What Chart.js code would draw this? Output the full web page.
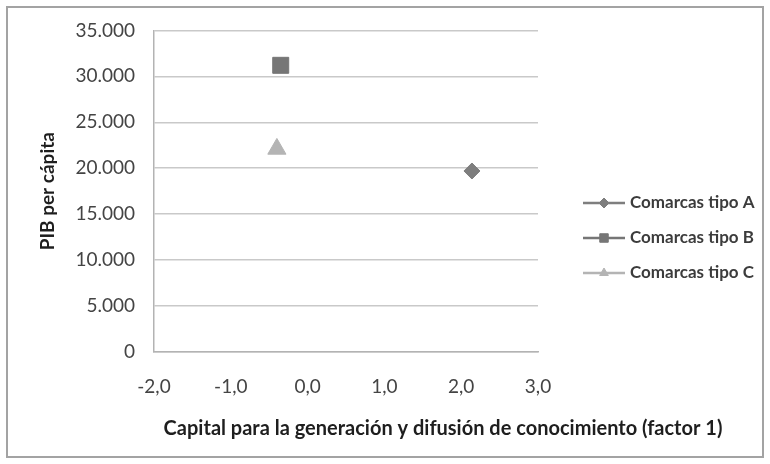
<!DOCTYPE html>
<html>
<head>
<meta charset="utf-8">
<script src="https://cdn.jsdelivr.net/npm/chart.js@4.4.1/dist/chart.umd.min.js"></script>
<style>
  html, body { margin: 0; padding: 0; background: #ffffff; }
  #wrap { position: relative; width: 770px; height: 464px; }
</style>
</head>
<body>
<div id="wrap"><canvas id="chart" width="770" height="464"></canvas></div>
<script>
// Series: one point per comarca type
const categories = ['Comarcas tipo A', 'Comarcas tipo B', 'Comarcas tipo C'];
const factor1 = [2.14, -0.35, -0.40];
const pibPerCapita = [19700, 31200, 22100];

// Axis ranges
const xTickValues = [-2, -1, 0, 1, 2, 3];
const yTickValues = [0, 5000, 10000, 15000, 20000, 25000, 30000, 35000];

const xTitle = 'Capital para la generación y difusión de conocimiento (factor 1)';
const yTitle = 'PIB per cápita';

const markerStyles = ['rectRot', 'rect', 'triangle'];
const markerColors = ['#7e7e7e', '#767676', '#b4b4b4'];
const markerRadius = [8, 11.3, 10.5];

const FONT = 'Lato, "Open Sans", sans-serif';

function fmtThousands(v) {
  return String(Math.round(v)).replace(/\B(?=(\d{3})+(?!\d))/g, '.');
}
function fmtDecimal(v) {
  return v.toFixed(1).replace('.', ',');
}

const datasets = categories.map((name, i) => ({
  label: name,
  data: [{ x: factor1[i], y: pibPerCapita[i] }],
  pointStyle: markerStyles[i],
  pointRadius: markerRadius[i],
  pointHoverRadius: markerRadius[i],
  backgroundColor: markerColors[i],
  borderColor: markerColors[i],
  borderWidth: 1,
  showLine: false
}));

// White background and thin grey frame around the whole chart
const framePlugin = {
  id: 'frame',
  beforeDraw(chart) {
    const ctx = chart.ctx;
    ctx.save();
    ctx.fillStyle = '#ffffff';
    ctx.fillRect(0, 0, chart.width, chart.height);
    ctx.strokeStyle = '#a3a3a3';
    ctx.lineWidth = 2;
    ctx.strokeRect(7, 7, chart.width - 14, chart.height - 14);
    ctx.restore();
  }
};

// Horizontal axis title, centred under the whole figure width
const xTitlePlugin = {
  id: 'xTitle',
  afterDraw(chart) {
    const ctx = chart.ctx;
    ctx.save();
    ctx.font = 'bold 20px ' + FONT;
    ctx.fillStyle = '#1e1e1e';
    ctx.textAlign = 'center';
    ctx.textBaseline = 'middle';
    ctx.fillText(xTitle, 443, 429);
    ctx.restore();
  }
};

// Legend on the right: short line with the series marker in the middle
const sideLegendPlugin = {
  id: 'sideLegend',
  afterDraw(chart) {
    const ctx = chart.ctx;
    const x0 = 583, x1 = 625, rowTop = 203, rowGap = 35;
    ctx.save();
    chart.data.datasets.forEach((ds, i) => {
      const y = rowTop + i * rowGap;
      ctx.strokeStyle = ds.borderColor;
      ctx.lineWidth = 2.5;
      ctx.beginPath();
      ctx.moveTo(x0, y);
      ctx.lineTo(x1, y);
      ctx.stroke();
      ctx.fillStyle = ds.backgroundColor;
      ctx.strokeStyle = ds.borderColor;
      ctx.lineWidth = 1;
      Chart.helpers.drawPoint(ctx, {
        pointStyle: ds.pointStyle,
        radius: ds.pointStyle === 'rect' ? 6 : 5,
        rotation: 0,
        borderWidth: 1
      }, (x0 + x1) / 2, y);
      ctx.fillStyle = '#3c3c3c';
      ctx.font = 'bold 17px ' + FONT;
      ctx.textAlign = 'left';
      ctx.textBaseline = 'middle';
      ctx.fillText(ds.label, 630, y);
    });
    ctx.restore();
  }
};

new Chart(document.getElementById('chart'), {
  type: 'scatter',
  data: { datasets },
  plugins: [framePlugin, xTitlePlugin, sideLegendPlugin],
  options: {
    responsive: false,
    animation: false,
    events: [],
    layout: { padding: { left: 0, right: 232, top: 30, bottom: 0 } },
    plugins: {
      legend: { display: false },
      tooltip: { enabled: false }
    },
    scales: {
      x: {
        type: 'linear',
        position: 'bottom',
        min: xTickValues[0],
        max: xTickValues[xTickValues.length - 1],
        afterBuildTicks(scale) {
          scale.ticks = xTickValues.map(v => ({ value: v }));
        },
        afterFit(scale) { scale.height = 112; },
        grid: { display: true, drawOnChartArea: false, drawTicks: false },
        border: { display: true, color: '#b3b3b3', width: 1.5 },
        ticks: {
          padding: 23,
          color: '#444444',
          font: { family: FONT, size: 19 },
          callback: v => fmtDecimal(v)
        },
        title: { display: false }
      },
      y: {
        type: 'linear',
        position: 'left',
        min: yTickValues[0],
        max: yTickValues[yTickValues.length - 1],
        afterBuildTicks(scale) {
          scale.ticks = yTickValues.map(v => ({ value: v }));
        },
        afterFit(scale) { scale.width = 154; },
        grid: { color: '#c9c9c9', lineWidth: 1.5, drawTicks: false },
        border: { display: true, color: '#b3b3b3', width: 1.5 },
        ticks: {
          padding: 19,
          color: '#444444',
          font: { family: FONT, size: 19 },
          callback: v => fmtThousands(v)
        },
        title: {
          display: true,
          text: yTitle,
          color: '#1e1e1e',
          font: { family: FONT, size: 19, weight: 'bold' },
          padding: { top: 36, bottom: 0 }
        }
      }
    }
  }
});
</script>
</body>
</html>
